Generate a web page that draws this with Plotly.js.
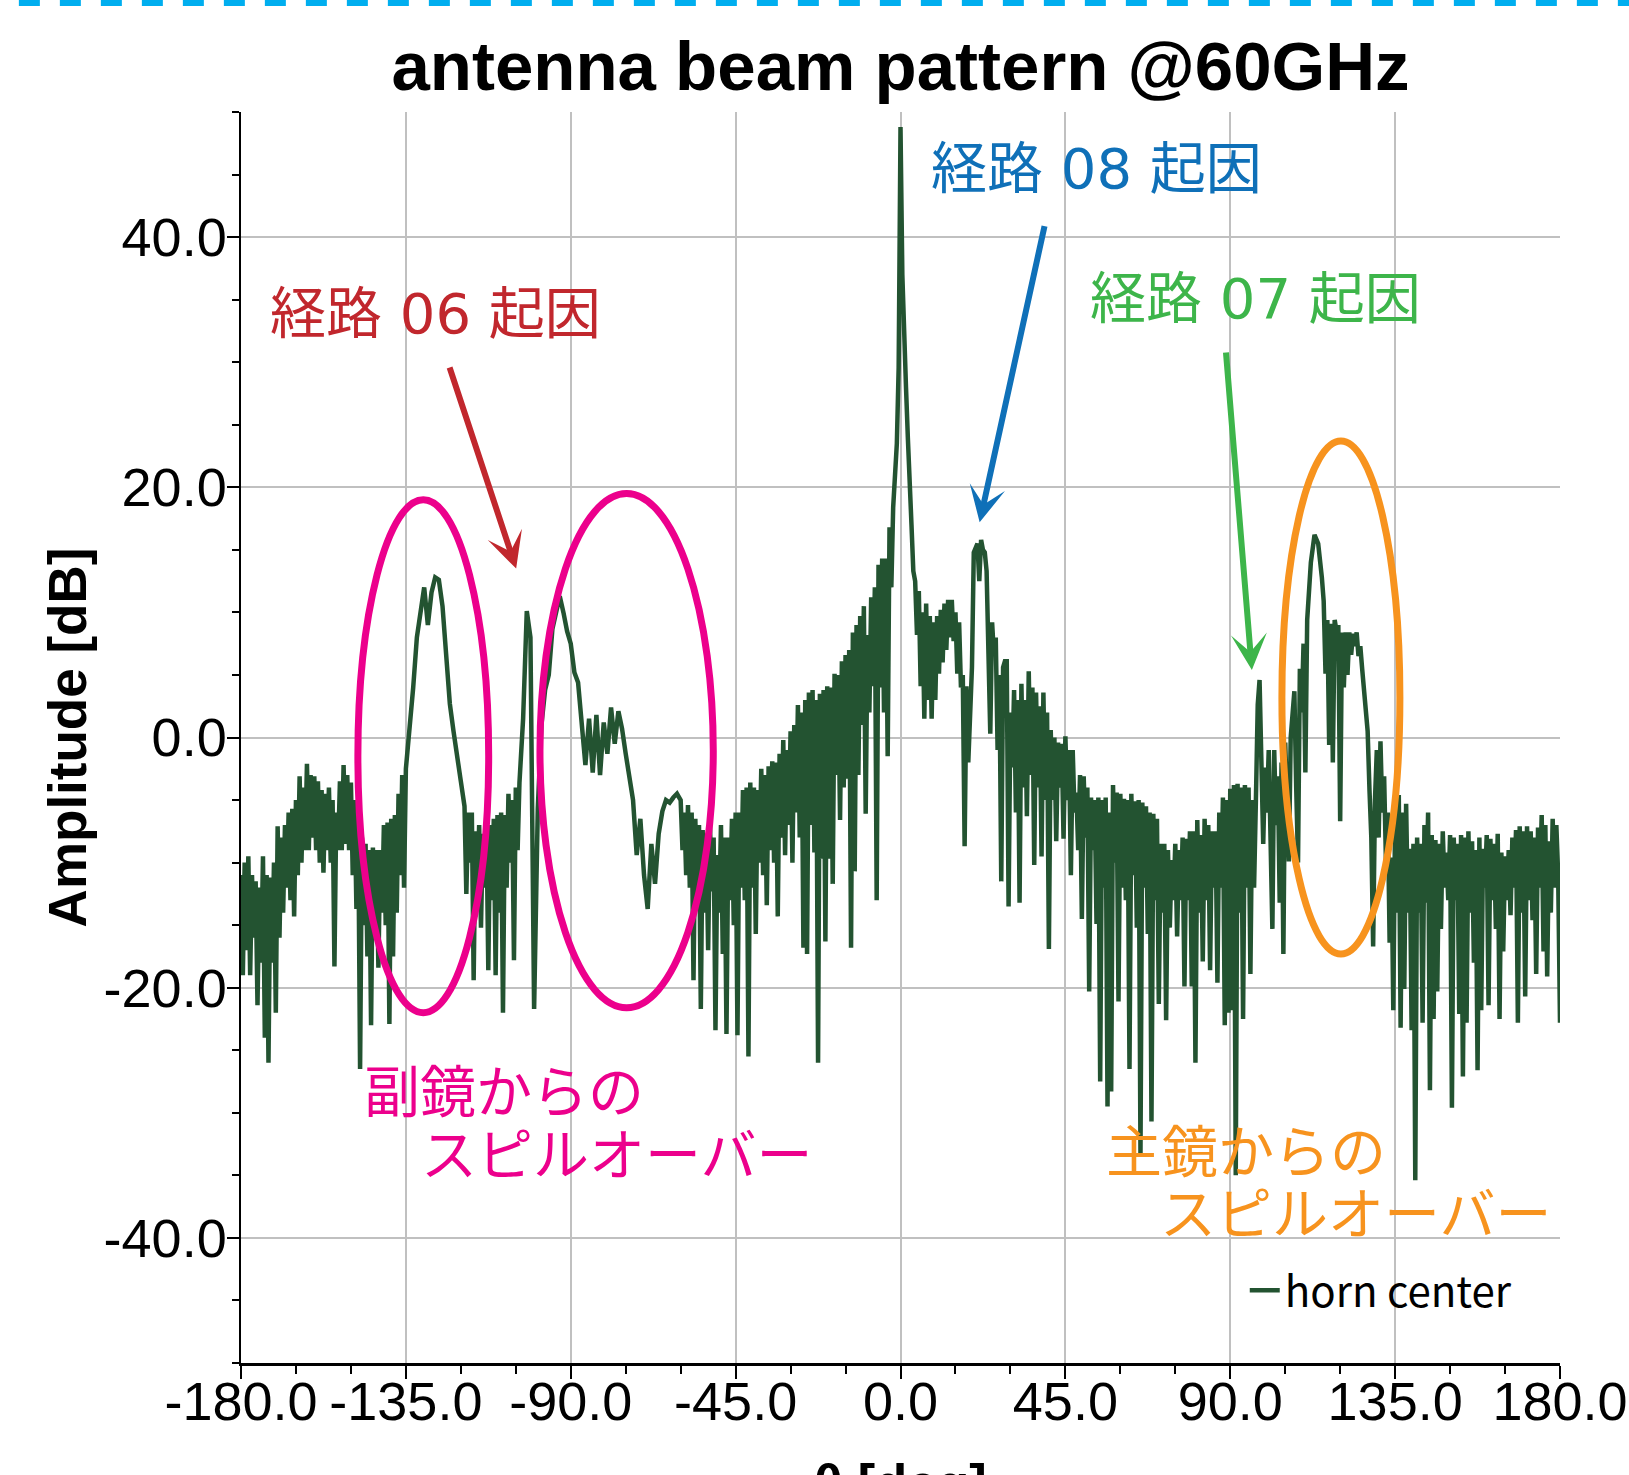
<!DOCTYPE html>
<html>
<head>
<meta charset="utf-8">
<script src="https://cdn.plot.ly/plotly-3.0.1.min.js"></script>
<style>
html,body{margin:0;padding:0;background:#ffffff;overflow:hidden;}
#chart{width:1629px;height:1540px;}
</style>
</head>
<body>
<div id="chart"></div>
<script>
// ---- data (finer steps where the trace is noisy) ----
const theta = [
-180,-179.5,-179,-178.5,-178,-177.5,-177,-176.5,-176,-175.5,-175,-174.5,-174,-173.5,-173,-172.5,-172,-171.5,-171,-170.5,
-170,-169.5,-169,-168.5,-168,-167.5,-167,-166.5,-166,-165.5,-165,-164.5,-164,-163.5,-163,-162.5,-162,-161.5,-161,-160.5,
-160,-159.5,-159,-158.5,-158,-157.5,-157,-156.5,-156,-155.5,-155,-154.5,-154,-153.5,-153,-152.5,-152,-151.5,-151,-150.5,
-150,-149.5,-149,-148.5,-148,-147.5,-147,-146.5,-146,-145.5,-145,-144.5,-144,-143.5,-143,-142.5,-142,-141.5,-141,-140.5,
-140,-139.5,-139,-138.5,-138,-137.5,-137,-136.5,-136,-135.5,
-135,-134,-133,-132,-131,-130,-129,-128,-127,-126,-125,-124,-123,-122,-121,-120,
-119,-118.5,-118,-117.5,-117,-116.5,-116,-115.5,-115,-114.5,-114,-113.5,-113,-112.5,-112,-111.5,-111,-110.5,-110,-109.5,
-109,-108.5,-108,-107.5,-107,-106.5,-106,-105.5,-105,-104.5,-104,
-103,-102,-101,-100,-99,-98,-97,-96,-95,-94,-93,-92,-91,-90,-89,-88,-87,-86,-85,-84,
-83,-82,-81,-80,-79,-78,-77,-76,-75,-74,-73,-72,-71,-70,-69,-68,-67,-66,-65,-64,
-63,-62,-61,
-60,-59.5,-59,-58.5,-58,-57.5,-57,-56.5,-56,-55.5,-55,-54.5,-54,-53.5,-53,-52.5,-52,-51.5,-51,-50.5,
-50,-49.5,-49,-48.5,-48,-47.5,-47,-46.5,-46,-45.5,-45,-44.5,-44,-43.5,-43,-42.5,-42,-41.5,-41,-40.5,
-40,-39.5,-39,-38.5,-38,-37.5,-37,-36.5,-36,-35.5,-35,-34.5,-34,-33.5,-33,-32.5,-32,-31.5,-31,-30.5,
-30,-29.5,-29,-28.5,-28,-27.5,-27,-26.5,-26,-25.5,-25,-24.5,-24,-23.5,-23,-22.5,-22,-21.5,-21,-20.5,
-20,-19.5,-19,-18.5,-18,-17.5,-17,-16.5,-16,-15.5,-15,-14.5,-14,-13.5,-13,-12.5,-12,-11.5,-11,-10.5,
-10,-9.5,-9,-8.5,-8,-7.5,-7,-6.5,-6,-5.5,-5,-4.5,-4,-3.5,-3,-2.5,-2,-1.5,-1,-0.5,
0,0.5,1,1.5,2,2.5,3,3.5,4,4.5,5,5.5,6,6.5,7,7.5,8,8.5,9,9.5,
10,10.5,11,11.5,12,12.5,13,13.5,14,14.5,15,15.5,16,16.5,17,17.5,18,18.5,19,19.5,
20,20.5,21,21.5,22,22.5,23,23.5,24,24.5,25,25.5,26,26.5,27,27.5,28,28.5,
29,29.5,30,30.5,31,31.5,32,32.5,33,33.5,34,34.5,35,35.5,36,36.5,37,37.5,38,38.5,
39,39.5,40,40.5,41,41.5,42,42.5,43,43.5,44,44.5,45,45.5,46,46.5,47,47.5,48,48.5,
49,49.5,50,50.5,51,51.5,52,52.5,53,53.5,54,54.5,55,55.5,56,56.5,57,57.5,58,58.5,
59,59.5,60,60.5,61,61.5,62,62.5,63,63.5,64,64.5,65,65.5,66,66.5,67,67.5,68,68.5,
69,69.5,70,70.5,71,71.5,72,72.5,73,73.5,74,74.5,75,75.5,76,76.5,77,77.5,78,78.5,
79,79.5,80,80.5,81,81.5,82,82.5,83,83.5,84,84.5,85,85.5,86,86.5,87,87.5,88,88.5,
89,89.5,90,90.5,91,91.5,92,92.5,93,93.5,94,94.5,95,95.5,96,96.5,97,97.5,98,98.5,
99,99.5,100,100.5,101,101.5,102,102.5,103,103.5,104,104.5,105,105.5,106,106.5,107,107.5,108,108.5,
109,109.5,110,110.5,111,111.5,
112,113,114,115,115.5,116,116.5,117,117.5,118,118.5,119,119.5,120,120.5,121,121.5,122,122.5,123,
123.5,124,124.5,125,125.5,126,126.5,127,127.5,128,
128.5,129,129.5,130,130.5,131,131.5,132,132.5,133,133.5,134,134.5,135,135.5,136,136.5,137,137.5,138,
138.5,139,139.5,140,140.5,141,141.5,142,142.5,143,143.5,144,144.5,145,145.5,146,146.5,147,147.5,148,
148.5,149,149.5,150,150.5,151,151.5,152,152.5,153,153.5,154,154.5,155,155.5,156,156.5,157,157.5,158,
158.5,159,159.5,160,160.5,161,161.5,162,162.5,163,163.5,164,164.5,165,165.5,166,166.5,167,167.5,168,
168.5,169,169.5,170,170.5,171,171.5,172,172.5,173,173.5,174,174.5,175,175.5,176,176.5,177,177.5,178,
178.5,179,179.5,180
];
const amplitude = [
-11,-19,-10,-17,-9.5,-19,-11,-16,-11.5,-21.4,-12,-18,-9.5,-24,-11,-26,-11.2,-18,-10,-22,
-7.1,-16,-8,-14,-7,-12,-6,-13,-5.7,-14.3,-5,-11,-3.1,-10,-4,-9,-2.1,-9,-3,-8,
-3.1,-9,-3.5,-10,-4.2,-10.8,-4.5,-9,-4,-10,-5,-18.3,-6,-9,-3.5,-9,-2.2,-8.5,-3,-9,
-3.6,-11,-5,-13.7,-7,-26.5,-8,-15,-8.5,-17.5,-9,-23,-8.8,-16,-9,-18.4,-9,-14,-7,-15,
-6.8,-22.9,-6.5,-17.5,-6.2,-14,-4.5,-11,-3,-12,
-2.5,0.5,4,8,10.1,12,9,11.6,12.8,12.6,10.5,6,2.7,0.5,-1.8,-3.5,
-5.5,-12.5,-6,-10,-6,-19.4,-7.5,-12,-7,-15.2,-7.7,-12,-7,-18.6,-7,-13,-6.5,-19,-6.2,-14,
-6,-22,-6.2,-12,-4.5,-10,-5,-17.8,-4,-9,-3.6,
1.5,10.1,8,-21.7,-5.7,1,3.8,5,8.7,10,11.3,10,8.5,7.5,5.2,4.4,1.2,-2.2,1.5,-2.8,
1.8,-3,1.2,-1.3,2.4,-0.5,2.1,0.7,-1.3,-3,-5,-9.4,-6.5,-11,-13.7,-8.5,-11.7,-7.7,-5.9,-5,
-5.2,-4.8,-4.5,
-5,-9,-6,-11,-5.4,-12,-6,-19.4,-6.5,-13,-7,-21.7,-7.4,-14,-8,-17,-7,-12.3,-8,-23.4,
-9.4,-14,-7,-17.3,-8,-23.7,-8,-13,-6.5,-15,-6,-23.8,-6,-12,-4.2,-13,-4,-25.5,-3.6,-12,
-4,-15.7,-4.2,-10,-2.5,-11,-3,-13.4,-2.3,-9,-1.9,-10,-2,-14.3,-1.3,-8,-0.2,-9.4,-1,-7,
0.5,-10,1,-6,2.6,-8,2,-16.8,3,-17.3,3.6,-7,3.8,-9.2,3,-26,3.5,-9.7,3.8,-16.3,
4.1,-9.7,4,-11.7,5.1,-3,5,-6.6,6.1,-4,6.6,-3.3,7,-16.8,8.4,-10.7,9,-3,9.7,1,
10.5,-6.1,8.2,2,11.2,4.1,12,-13,13.8,4,14.3,2,14.3,-1.5,16.8,12,18.4,20.4,23.5,29.6,
48.8,37,31,28,24,19.4,17,13.3,12.5,8.2,11.7,4.1,10,1.5,10.7,3,9.7,1.5,9.2,3,
9.7,5.1,10.2,6,10.7,7,11,8,11,7.7,10,5.1,9.2,4,5,-8.7,4.1,-2,3,5.6,
14.8,15.3,15.5,12.5,15.8,15,14.8,13.3,7.7,0.3,9.2,6.6,8,-1,5,-11.5,5.6,6.1,
6.1,-13.5,2,-2.4,3.8,-6,3,-13.2,4.3,-4,3,-6.3,5.3,-3,4,-10.2,3.6,-4,2.5,-9.5,
3.6,-5,2,-16.9,0.6,-5,0,-8.3,-0.4,-4,-0.5,-8.1,0.1,-5,-1,-11,-1,-6,-4.4,-9,
-3,-14.5,-3.1,-8,-4,-20.3,-4.8,-9,-5,-14.9,-4.8,-27.5,-5,-12,-4.8,-29.5,-6,-28.3,-3.8,-10,
-4.4,-21.1,-4.5,-12,-4.9,-13,-5,-26.5,-4.5,-11,-5.1,-15.2,-5,-33.4,-5.2,-12,-5.5,-15.7,-6,-30.7,
-6.1,-13,-6.5,-21.3,-8.5,-14,-8.5,-22.6,-9,-15.2,-9.8,-13,-8.5,-15.9,-9,-13,-8,-19.9,-8.1,-13,
-7.5,-19.9,-7.5,-26,-6.6,-14,-7.8,-17.9,-6.5,-13,-7,-18.6,-7.5,-12,-7.5,-19.6,-6,-12,-4.8,-23,
-5,-22,-4.1,-21.8,-3.8,-35,-3.7,-14,-4,-22.5,-3.8,-12,-4,-18.9,-5,-12,-5,2.6,4.6,-3,
-8.5,-2.4,-6,-1,-9,-15.3,-1,-7,-3.1,-13.2,-2,-17.3,-0.4,-6,-9.9,0,1.9,3.7,-4,-10,
5.5,2,7.5,-2.8,9.4,12,
14,16.2,15.5,12.8,10.9,5.1,9.4,-0.6,9.1,-2,9.4,8.5,9,-6.7,8.4,4,8.4,5,8.4,6.6,
8.3,7.3,8.4,6.5,7.3,5.5,4,2.6,0.5,-4.2,
-8,-16.7,-5,-1,-8,-0.3,-6,-3.1,-10,-6,-16.4,-9.6,-21.8,-6,-14,-4.6,-23.2,-6,-20.1,-5.3,
-14,-8.9,-23.4,-8.5,-35.4,-8,-14,-8.5,-22.8,-7,-13.2,-6,-28.2,-7.8,-22.5,-8.2,-20.3,-8.5,-15.3,-7.5,
-12,-9.2,-13,-7.8,-29.6,-8,-13,-8.5,-22.1,-7.8,-27.1,-8,-22.8,-7.5,-14,-8.3,-18,-9,-26.6,-8,
-21.8,-8.9,-12,-7.8,-21.4,-8.1,-13,-8.5,-15.3,-7.7,-22.5,-9.2,-17.1,-9.5,-13,-9,-14.2,-8,-12,-7.4,
-22.8,-7.1,-14,-7.5,-20.7,-7.1,-13,-7.5,-14.6,-8,-18.9,-7.2,-12,-6.2,-17.1,-7,-19.1,-8.3,-14,-6.5,
-12,-7,-11,-22.8
];
const seriesName = "horn center";
const xTickVals = [-180,-135,-90,-45,0,45,90,135,180];
const xTickText = ["-180.0","-135.0","-90.0","-45.0","0.0","45.0","90.0","135.0","180.0"];
const yTickVals = [-40,-20,0,20,40];
const yTickText = ["-40.0","-20.0","0.0","20.0","40.0"];
const chartTitle = "antenna beam pattern @60GHz";
const xTitle = "θ [deg]";
const yTitle = "Amplitude [dB]";

// annotation labels: [prefix, path number, suffix]
const pathLabels = [["経路", "06", "起因"], ["経路", "08", "起因"], ["経路", "07", "起因"]];
const spillSubLines = ["副鏡からの", "スピルオーバー"];
const spillMainLines = ["主鏡からの", "スピルオーバー"];

// ---- styles ----
const RED = "#c1272d", BLUE = "#0f70b8", GREEN = "#3db54a", MAGENTA = "#ec008c", ORANGE = "#f7931e";
const LINE = "#235331";
const SANS = "Liberation Sans, Arial, sans-serif";
const JP = "Noto Sans CJK JP, sans-serif";
const JPSIZE = 56;

const trace = {
  type: "scatter", mode: "lines", name: seriesName,
  x: theta, y: amplitude,
  line: {color: LINE, width: 4.5},
  showlegend: true
};

function pathText(parts) {
  return parts[0] + '<span style="font-family:DejaVu Sans"> ' + parts[1] + ' </span>' + parts[2];
}
function label(text, x, y, color, xanchor) {
  return {text: text, x: x, y: y, xref: "x", yref: "y", showarrow: false,
    xanchor: xanchor || "center", yanchor: "middle",
    font: {family: JP, size: JPSIZE, color: color}};
}
function arrow(x, y, ax, ay, color) {
  return {text: "", x: x, y: y, ax: ax, ay: ay, xref: "x", yref: "y", axref: "x", ayref: "y",
    showarrow: true, arrowhead: 3, arrowsize: 1, arrowwidth: 6, arrowcolor: color, standoff: 0};
}
function ellipse(x0, x1, y0, y1, color) {
  return {type: "circle", xref: "x", yref: "y", x0: x0, x1: x1, y0: y0, y1: y1,
    line: {color: color, width: 7}, fillcolor: "rgba(0,0,0,0)", layer: "above"};
}

const layout = {
  width: 1629, height: 1540,
  margin: {l: 241, r: 69, t: 112, b: 177, pad: 0},
  paper_bgcolor: "#ffffff", plot_bgcolor: "#ffffff",
  font: {family: SANS, color: "#000"},
  title: {text: chartTitle, font: {family: SANS, size: 69, weight: "bold", color: "#000"},
    x: 0.5, xref: "paper", xanchor: "center", y: 1 - 66 / 1540, yref: "container", yanchor: "middle"},
  xaxis: {
    range: [-180, 180], tickmode: "array", tickvals: xTickVals, ticktext: xTickText,
    ticks: "outside", ticklen: 13, tickwidth: 2, tickcolor: "#000", ticklabelstandoff: -24,
    showline: true, linecolor: "#000", linewidth: 3, zeroline: false,
    showgrid: true, gridcolor: "#c0c0c0", gridwidth: 2,
    tickfont: {family: SANS, size: 54, color: "#000"},
    minor: {tickmode: "linear", tick0: 0, dtick: 15, ticks: "outside", ticklen: 8, tickwidth: 2, tickcolor: "#000", showgrid: false},
    title: {text: xTitle, font: {family: SANS, size: 53, weight: "bold", color: "#000"}, standoff: 36},
    automargin: false
  },
  yaxis: {
    range: [-50, 50], tickmode: "array", tickvals: yTickVals, ticktext: yTickText,
    ticks: "outside", ticklen: 12, tickwidth: 2, tickcolor: "#000", ticklabelstandoff: -11,
    showline: true, linecolor: "#000", linewidth: 2.5, zeroline: false,
    showgrid: true, gridcolor: "#c0c0c0", gridwidth: 2,
    tickfont: {family: SANS, size: 54, color: "#000"},
    minor: {tickmode: "linear", tick0: 0, dtick: 5, ticks: "outside", ticklen: 7, tickwidth: 2, tickcolor: "#000", showgrid: false},
    title: {text: yTitle, font: {family: SANS, size: 53, weight: "bold", color: "#000"}, standoff: 0},
    automargin: false
  },
  legend: {x: 0.761, y: 0.058, xanchor: "left", yanchor: "middle", bgcolor: "rgba(0,0,0,0)",
    borderwidth: 0, itemwidth: 30, font: {family: JP, size: 42, color: "#000"}},
  shapes: [
    ellipse(-148.1, -112.4, -22.0, 19.0, MAGENTA),
    ellipse(-98.4, -51.1, -21.6, 19.5, MAGENTA),
    ellipse(104.1, 136.3, -17.3, 23.7, ORANGE),
    {type: "line", xref: "paper", yref: "paper", x0: -0.1995, x1: 1.0615, y0: 1.0871, y1: 1.0871,
      line: {color: "#00aeef", width: 6, dash: "21px,20px"}}
  ],
  annotations: [
    label(pathText(pathLabels[0]), -126.8, 34.3, RED),
    label(pathText(pathLabels[1]), 53.6, 45.9, BLUE),
    label(pathText(pathLabels[2]), 96.9, 35.5, GREEN),
    label(spillSubLines[0], -147.1, -28.0, MAGENTA, "left"),
    label(spillSubLines[1], -131.4, -33.0, MAGENTA, "left"),
    label(spillMainLines[0], 55.6, -32.8, ORANGE, "left"),
    label(spillMainLines[1], 70.3, -37.7, ORANGE, "left"),
    arrow(-104.9, 13.5, -123.2, 29.7, RED),
    arrow(21.6, 17.2, 39.4, 41.0, BLUE),
    arrow(95.9, 5.4, 88.8, 30.9, GREEN)
  ]
};

Plotly.newPlot("chart", [trace], layout, {displayModeBar: false, staticPlot: true});
</script>
</body>
</html>
